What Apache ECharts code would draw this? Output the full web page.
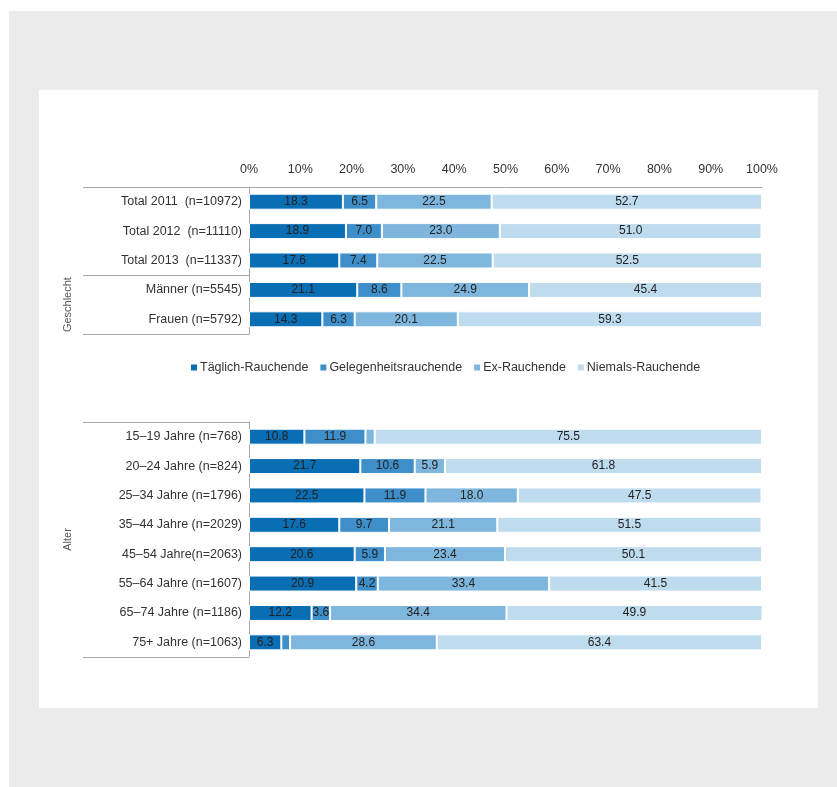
<!DOCTYPE html>
<html>
<head>
<meta charset="utf-8">
<script src="https://cdn.jsdelivr.net/npm/echarts@6/dist/echarts.min.js"></script>
<style>
html,body{margin:0;padding:0;background:#fff;}
#chart{width:837px;height:787px;}
</style>
</head>
<body>
<div id="chart"></div>
<script>
// ---- data ----
const seriesNames = ['Täglich-Rauchende', 'Gelegenheitsrauchende', 'Ex-Rauchende', 'Niemals-Rauchende'];
const xTicks = [0, 10, 20, 30, 40, 50, 60, 70, 80, 90, 100];

const topCategories = ['Total 2011  (n=10972)', 'Total 2012  (n=11110)', 'Total 2013  (n=11337)', 'Männer (n=5545)', 'Frauen (n=5792)'];
const topDaily      = [18.3, 18.9, 17.6, 21.1, 14.3];
const topOccasional = [6.5, 7.0, 7.4, 8.6, 6.3];
const topEx         = [22.5, 23.0, 22.5, 24.9, 20.1];
const topNever      = [52.7, 51.0, 52.5, 45.4, 59.3];

const ageCategories = ['15–19 Jahre (n=768)', '20–24 Jahre (n=824)', '25–34 Jahre (n=1796)', '35–44 Jahre (n=2029)', '45–54 Jahre(n=2063)', '55–64 Jahre (n=1607)', '65–74 Jahre (n=1186)', '75+ Jahre (n=1063)'];
const ageDaily      = [10.8, 21.7, 22.5, 17.6, 20.6, 20.9, 12.2, 6.3];
const ageOccasional = [11.9, 10.6, 11.9, 9.7, 5.9, 4.2, 3.6, 1.7];
const ageEx         = [1.8, 5.9, 18.0, 21.1, 23.4, 33.4, 34.4, 28.6];
const ageNever      = [75.5, 61.8, 47.5, 51.5, 50.1, 41.5, 49.9, 63.4];

const colors = ['#0A6EB4', '#3D8EC9', '#7EB6DD', '#BFDBEE'];
const FONT = 'Liberation Sans';
const FS = 12.5;
const lineColor = '#a8a8a8';

function mkSeries(name, data, idx, color) {
  return {
    name: name, type: 'bar', stack: 'g' + idx,
    xAxisIndex: idx, yAxisIndex: idx,
    data: data, barWidth: 16,
    itemStyle: { color: color, borderColor: '#fff', borderWidth: 1 },
    label: {
      show: true, position: 'inside', color: '#222', fontSize: 12, fontFamily: FONT,
      formatter: p => (p.value < 3 ? '' : p.value.toFixed(1))
    },
    emphasis: { disabled: true }
  };
}

const topData = [topDaily, topOccasional, topEx, topNever];
const ageData = [ageDaily, ageOccasional, ageEx, ageNever];
const series = [];
seriesNames.forEach((n, i) => series.push(mkSeries(n, topData[i], 0, colors[i])));
seriesNames.forEach((n, i) => series.push(mkSeries(n, ageData[i], 1, colors[i])));

const chart = echarts.init(document.getElementById('chart'));
const option = {
  backgroundColor: '#fff',
  animation: false,
  textStyle: { fontFamily: FONT },
  legend: {
    data: seriesNames, left: 184, top: 356,
    icon: 'rect', itemWidth: 8, itemHeight: 8, itemGap: 10,
    textStyle: { fontSize: FS, color: '#333', fontFamily: FONT, padding: [0, 0, 0, -3] },
    selectedMode: false
  },
  grid: [
    { left: 249, width: 513, top: 187, height: 147 },
    { left: 249, width: 513, top: 422, height: 235 }
  ],
  xAxis: [
    {
      gridIndex: 0, type: 'value', position: 'top', min: 0, max: 100, interval: 10,
      axisLine: { show: true, lineStyle: { color: lineColor } },
      axisTick: { show: false }, splitLine: { show: false },
      axisLabel: { formatter: '{value}%', color: '#333', fontSize: FS, fontFamily: FONT, margin: 11 }
    },
    {
      gridIndex: 1, type: 'value', min: 0, max: 100, interval: 10, show: false
    }
  ],
  yAxis: [
    {
      gridIndex: 0, type: 'category', data: topCategories, inverse: true,
      axisLine: { show: true, lineStyle: { color: lineColor } },
      axisTick: { show: false },
      axisLabel: { color: '#333', fontSize: FS, fontFamily: FONT, margin: 7 }
    },
    {
      gridIndex: 1, type: 'category', data: ageCategories, inverse: true,
      axisLine: { show: true, lineStyle: { color: lineColor } },
      axisTick: { show: false },
      axisLabel: { color: '#333', fontSize: FS, fontFamily: FONT, margin: 7 }
    }
  ],
  series: series
};
chart.setOption(option);

// ---- decorations computed from axes ----
const tableLeft = 83;
function band(axisIdx, cats, i) {
  const c0 = chart.convertToPixel({ yAxisIndex: axisIdx }, cats[0]);
  const c1 = chart.convertToPixel({ yAxisIndex: axisIdx }, cats[1]);
  const step = c1 - c0;
  const c = chart.convertToPixel({ yAxisIndex: axisIdx }, cats[i]);
  return [c - step / 2, c + step / 2];
}
const x0 = chart.convertToPixel({ xAxisIndex: 0 }, 0);
function hline(y, xa, xb) {
  return { type: 'line', shape: { x1: xa, y1: y, x2: xb, y2: y }, style: { stroke: lineColor, lineWidth: 1 }, silent: true };
}
const topStart = band(0, topCategories, 0)[0];
const topSep = band(0, topCategories, 3)[0];
const topEnd = band(0, topCategories, topCategories.length - 1)[1];
const ageStart = band(1, ageCategories, 0)[0];
const ageEnd = band(1, ageCategories, ageCategories.length - 1)[1];
const gMid = (topSep + topEnd) / 2;
const aMid = (ageStart + ageEnd) / 2;

chart.setOption({
  graphic: [
    { type: 'rect', z: -10, silent: true, shape: { x: 9, y: 11, width: 828, height: 776 }, style: { fill: '#ebebeb' } },
    { type: 'rect', z: -9, silent: true, shape: { x: 39, y: 90, width: 779, height: 618 }, style: { fill: '#fff' } },
    hline(Math.round(topStart) + 0.5, tableLeft, x0),
    hline(Math.round(topSep) + 0.5, tableLeft, x0),
    hline(Math.round(topEnd) + 0.5, tableLeft, x0),
    hline(Math.round(ageStart) + 0.5, tableLeft, x0),
    hline(Math.round(ageEnd) + 0.5, tableLeft, x0),
    { type: 'text', x: 68, y: gMid, rotation: Math.PI / 2, silent: true,
      style: { text: 'Geschlecht', fill: '#555', fontSize: 11, fontFamily: FONT, align: 'center', verticalAlign: 'middle' } },
    { type: 'text', x: 68, y: aMid, rotation: Math.PI / 2, silent: true,
      style: { text: 'Alter', fill: '#555', fontSize: 11, fontFamily: FONT, align: 'center', verticalAlign: 'middle' } }
  ]
});
</script>
</body>
</html>
